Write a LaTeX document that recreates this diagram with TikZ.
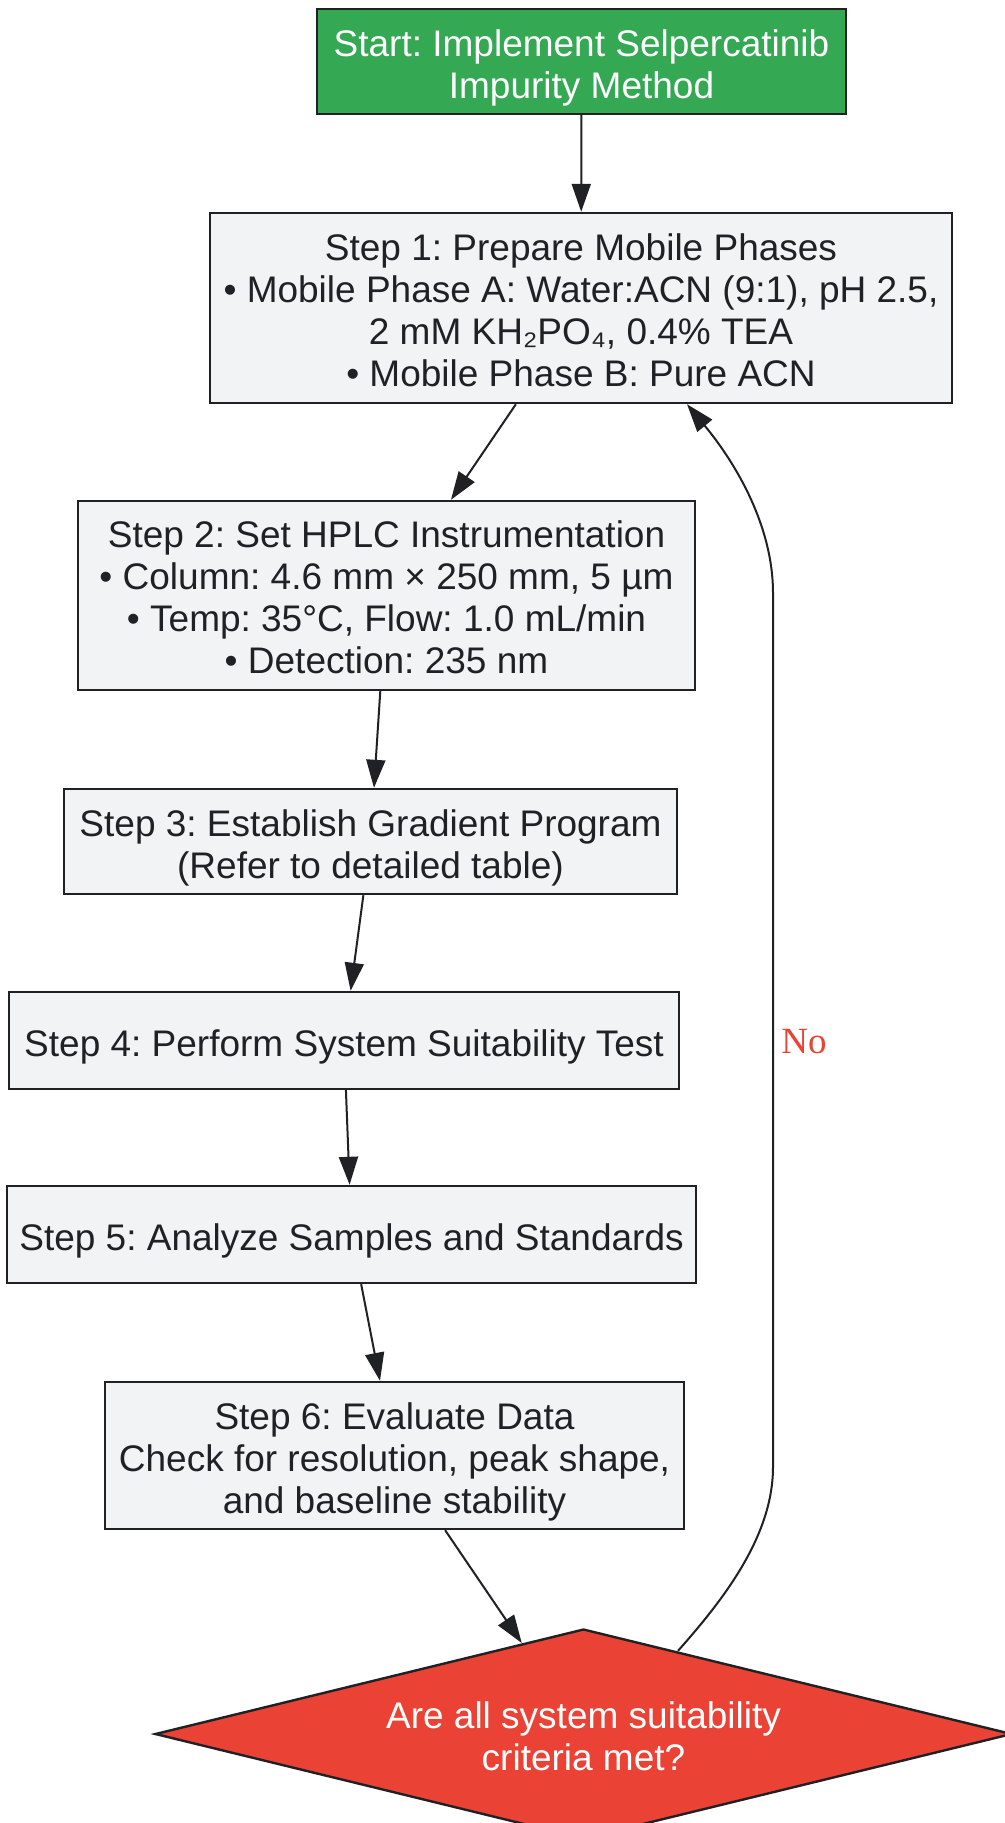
\documentclass[tikz,border=0pt]{standalone}
\usepackage{fontspec}
\setmainfont{Liberation Sans}
\newfontfamily\serifno{Liberation Serif}
\usetikzlibrary{shapes.geometric,arrows.meta}
\definecolor{gfill}{HTML}{34A853}
\definecolor{rfill}{HTML}{EA4335}
\definecolor{bfill}{HTML}{F1F3F4}
\definecolor{ink}{HTML}{202124}
\newcommand\tpad[1]{\rule{0pt}{#1}}
\begin{document}
\frenchspacing
\begin{tikzpicture}[x=1pt,y=1pt,
  base/.style={draw=ink, line width=2.4pt, align=center, inner sep=0pt,
    font=\frenchspacing\fontsize{37}{42}\selectfont},
  stepbox/.style={base, fill=bfill, text=ink},
  startbox/.style={base, fill=gfill, text=white},
  decide/.style={base, shape=diamond, aspect=4.08, fill=rfill, text=white},
  conn/.style={draw=ink, line width=2pt, -{Triangle[length=28pt,width=19pt]}},
  nolabel/.style={text=rfill, font=\serifno\fontsize{37}{42}\selectfont}]
\useasboundingbox (0,0) rectangle (1004,-1823);
\fill[white] (0,0) rectangle (1004,-1823);

\node[startbox, minimum width=529pt, minimum height=105pt] (start) at (581.5,-61.5)
  {\tpad{40pt}Start: Implement Selpercatinib\\Impurity Method};
\node[stepbox, minimum width=742pt, minimum height=190pt] (s1) at (581,-308)
  {\tpad{31pt}Step 1: Prepare Mobile Phases\\
   • Mobile Phase A: Water:ACN (9:1), pH 2.5,\\
   2 mM KH₂PO₄, 0.4\% TEA\\
   • Mobile Phase B: Pure ACN};
\node[stepbox, minimum width=617pt, minimum height=189pt] (s2) at (386.5,-595.5)
  {\tpad{31pt}Step 2: Set HPLC Instrumentation\\
   • Column: 4.6 mm × 250 mm, 5 µm\\
   • Temp: 35°C, Flow: 1.0 mL/min\\
   • Detection: 235 nm};
\node[stepbox, minimum width=613pt, minimum height=105pt] (s3) at (370.5,-841.5)
  {\tpad{40pt}Step 3: Establish Gradient Program\\(Refer to detailed table)};
\node[stepbox, minimum width=670pt, minimum height=97pt] (s4) at (344,-1040.5)
  {\tpad{40pt}Step 4: Perform System Suitability Test};
\node[stepbox, minimum width=689pt, minimum height=97pt] (s5) at (351.5,-1234.5)
  {\tpad{40pt}Step 5: Analyze Samples and Standards};
\node[stepbox, minimum width=579pt, minimum height=147pt] (s6) at (394.5,-1455.5)
  {\tpad{40pt}Step 6: Evaluate Data\\
   Check for resolution, peak shape,\\
   and baseline stability};
\node[decide, minimum width=857pt, minimum height=210pt] (dia) at (583.5,-1734)
  {\tpad{32pt}Are all system suitability\\criteria met?};

\draw[conn] (start) -- (s1);
\draw[conn] (s1) -- (s2);
\draw[conn] (s2) -- (s3);
\draw[conn] (s3) -- (s4);
\draw[conn] (s4) -- (s5);
\draw[conn] (s5) -- (s6);
\draw[conn] (s6) -- (dia);

\coordinate (loopstart) at ([xshift=94.5pt,yshift=-23pt]dia.north);
\coordinate (loopend) at ([xshift=106pt]s1.south);
\draw[conn] (loopstart) .. controls (725,-1598) and (773,-1535) .. (773,-1467)
  -- (773,-593) .. controls (773,-528) and (738,-466) .. (loopend);
\node[nolabel] (no) at (804,-1042) {No};
\end{tikzpicture}
\end{document}
